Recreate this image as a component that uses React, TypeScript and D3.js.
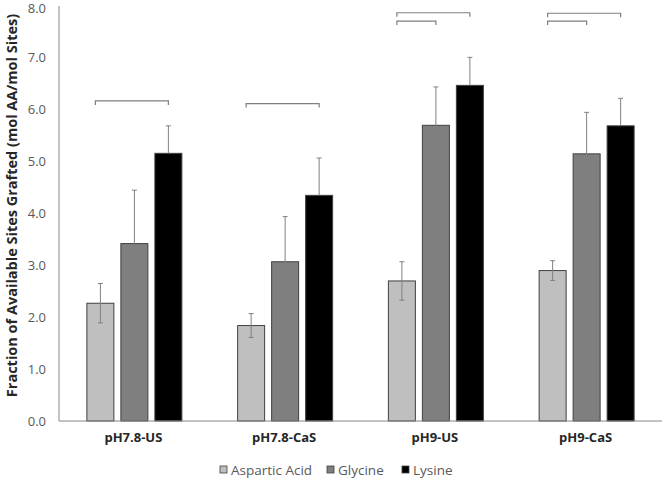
import React from "react";
import * as d3 from "d3";

const categories = ["pH7.8-US", "pH7.8-CaS", "pH9-US", "pH9-CaS"];
const seriesNames = ["Aspartic Acid", "Glycine", "Lysine"];
const aspartic = [2.27, 1.84, 2.7, 2.9];
const glycine = [3.42, 3.07, 5.7, 5.15];
const lysine = [5.16, 4.35, 6.47, 5.69];
const asparticErr = [0.38, 0.23, 0.37, 0.19];
const glycineErr = [1.03, 0.87, 0.74, 0.8];
const lysineErr = [0.53, 0.72, 0.54, 0.53];
const yTicks = [0, 1, 2, 3, 4, 5, 6, 7, 8];
const seriesColors = ["#bfbfbf", "#7f7f7f", "#000000"];
// brackets: group index, from series, to series, level value
const brackets = [
  { group: 0, from: 0, to: 2, level: 6.17 },
  { group: 1, from: 0, to: 2, level: 6.12 },
  { group: 2, from: 0, to: 2, level: 7.87 },
  { group: 2, from: 0, to: 1, level: 7.71 },
  { group: 3, from: 0, to: 2, level: 7.86 },
  { group: 3, from: 0, to: 1, level: 7.71 },
];

const W = 666;
const H = 480;
const left = 59;
const right = 662;
const top = 6;
const bottom = 421;

export default function App() {
  const values = [aspartic, glycine, lysine];
  const errs = [asparticErr, glycineErr, lysineErr];
  const x = d3.scaleBand<string>().domain(categories).range([left, right]).paddingInner(0).paddingOuter(0);
  const y = d3.scaleLinear().domain([0, 8]).range([bottom, top]);
  const barW = 27;
  const step = 34;
  const barX = (g: number, s: number) => (x(categories[g]) as number) + x.bandwidth() / 2 - (3 * step - (step - barW)) / 2 + s * step;
  const barC = (g: number, s: number) => barX(g, s) + barW / 2;
  const font = "'Open Sans', 'Noto Sans', sans-serif";

  return (
    <svg width={W} height={H} style={{ position: "absolute", left: 0, top: 0, background: "#fff" }} fontFamily={font}>
      <rect x={0} y={0} width={W} height={H} fill="#fff" />
      {/* y tick labels */}
      {yTicks.map((t) => (
        <text key={t} x={46} y={y(t) + (t === 8 ? 2 : 0)} dy="0.35em" textAnchor="end" fontSize={13} fill="#595959">
          {t.toFixed(1)}
        </text>
      ))}
      <text
        transform={`translate(12,${(top + bottom) / 2 - 8}) rotate(-90)`}
        textAnchor="middle"
        dy="0.35em"
        fontSize={14.5}
        fontWeight="bold"
        fill="#262626"
      >
        Fraction of Available Sites Grafted (mol AA/mol Sites)
      </text>
      {/* bars */}
      {categories.map((c, g) =>
        values.map((vals, s) => (
          <rect
            key={c + s}
            x={barX(g, s)}
            y={y(vals[g])}
            width={barW}
            height={y(0) - y(vals[g])}
            fill={seriesColors[s]}
            stroke="#404040"
            strokeWidth={1}
          />
        ))
      )}
      {/* error bars */}
      {categories.map((c, g) =>
        values.map((vals, s) => {
          const cx = barC(g, s);
          const hi = y(vals[g] + errs[s][g]);
          const lo = s === 2 ? y(vals[g]) : y(vals[g] - errs[s][g]);
          return (
            <g key={"e" + c + s} stroke="#808080" strokeWidth={1}>
              <line x1={cx} x2={cx} y1={hi} y2={lo} />
              <line x1={cx - 2.5} x2={cx + 2.5} y1={hi} y2={hi} />
              {s !== 2 && <line x1={cx - 2.5} x2={cx + 2.5} y1={lo} y2={lo} />}
            </g>
          );
        })
      )}
      {/* axes */}
      <line x1={left} x2={left} y1={top} y2={bottom} stroke="#868686" strokeWidth={1} />
      <line x1={left} x2={right} y1={bottom} y2={bottom} stroke="#868686" strokeWidth={1} />
      {/* brackets */}
      {brackets.map((b, i) => {
        const x1 = barC(b.group, b.from) - 5;
        const x2 = barC(b.group, b.to);
        const yy = y(b.level);
        return (
          <path
            key={"b" + i}
            d={`M${x1},${yy + 4}V${yy}H${x2}V${yy + 4}`}
            fill="none"
            stroke="#7f7f7f"
            strokeWidth={1.2}
          />
        );
      })}
      {/* category labels */}
      {categories.map((c) => (
        <text
          key={c}
          x={(x(c) as number) + x.bandwidth() / 2 - 1}
          y={437}
          dy="0.35em"
          textAnchor="middle"
          fontSize={13}
          fontWeight="bold"
          fill="#262626"
        >
          {c}
        </text>
      ))}
      {/* legend */}
      {seriesNames.map((n, i) => {
        const lx = [220, 327, 402][i];
        return (
          <g key={n}>
            <rect x={lx} y={466} width={7} height={7} fill={seriesColors[i]} stroke="#404040" strokeWidth={0.8} />
            <text x={lx + 11} y={470} dy="0.35em" fontSize={13.5} fill="#595959">
              {n}
            </text>
          </g>
        );
      })}
    </svg>
  );
}
